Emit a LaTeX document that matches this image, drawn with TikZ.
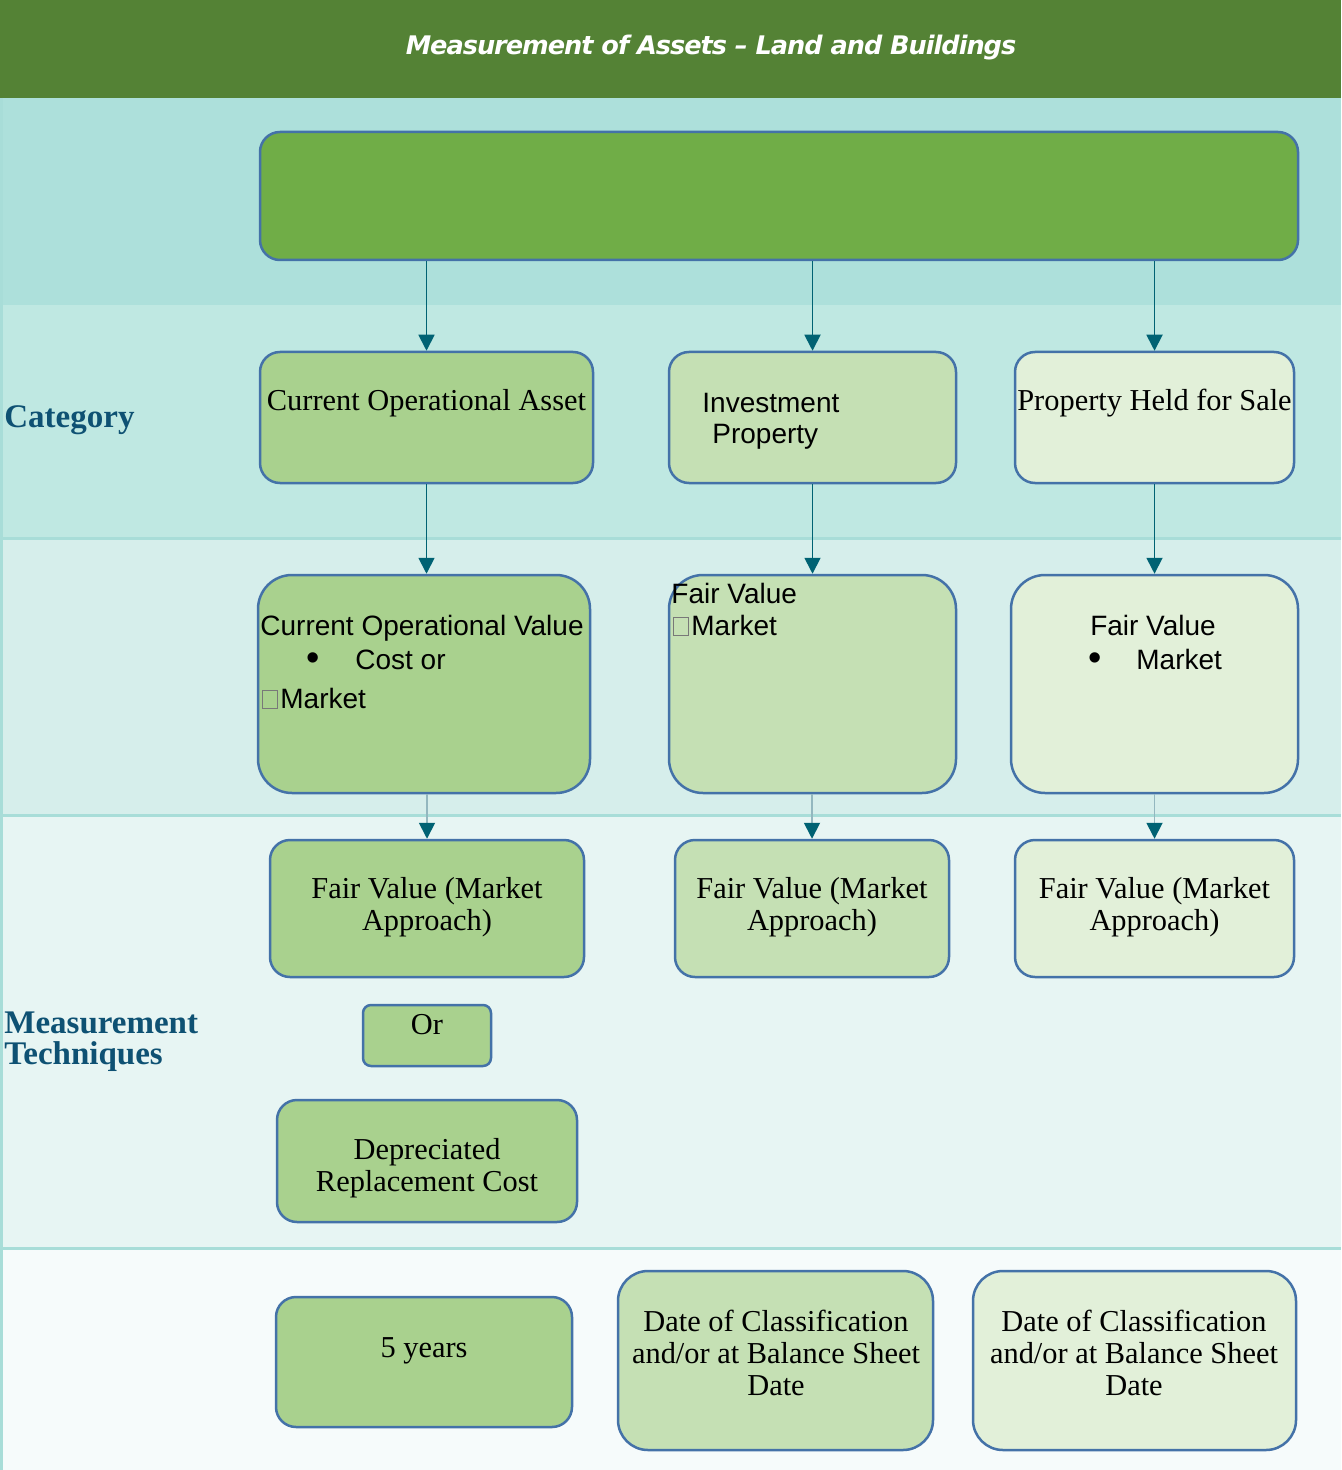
\documentclass[tikz,border=0pt]{standalone}
\usepackage{fontspec}
\setmainfont{Liberation Serif}
\setsansfont{Liberation Sans}
\newfontfamily\titlefont{DejaVu Sans}[LetterSpace=-4]
\usetikzlibrary{arrows.meta,fit}

\definecolor{titlegreen}{RGB}{84,130,53}
\definecolor{bandone}{RGB}{173,224,219}
\definecolor{bandtwo}{RGB}{191,232,226}
\definecolor{bandthree}{RGB}{214,238,235}
\definecolor{bandfour}{RGB}{231,245,243}
\definecolor{bandfive}{RGB}{246,251,251}
\definecolor{sepline}{RGB}{168,221,216}
\definecolor{boxblue}{RGB}{68,114,168}
\definecolor{topfill}{RGB}{112,173,71}
\definecolor{fillA}{RGB}{169,209,142}
\definecolor{fillB}{RGB}{197,224,180}
\definecolor{fillC}{RGB}{226,240,217}
\definecolor{arrowteal}{RGB}{0,98,115}
\definecolor{greyline}{RGB}{147,183,191}
\definecolor{catblue}{RGB}{14,81,115}
\definecolor{tofugrey}{RGB}{120,120,120}

\newcommand{\tofu}{{\color{tofugrey}\setlength{\fboxsep}{0pt}\setlength{\fboxrule}{0.5pt}\fbox{\rule{0pt}{8.5pt}\hspace{7pt}}}\kern1pt}

\begin{document}
\begin{tikzpicture}[
    x=0.5pt, y=-0.5pt,
    box/.style={draw=boxblue, line width=1.25pt, rounded corners=10pt, inner sep=0pt},
    serif/.style={font=\fontsize{15.2}{16}\selectfont, align=center, inner sep=0pt},
    sans/.style={font=\sffamily\fontsize{14}{16.5}\selectfont, inner sep=0pt, anchor=base west},
    dot/.style={font=\sffamily\fontsize{19}{19}\selectfont, inner sep=0pt, anchor=base west},
    rowlabel/.style={font=\bfseries\fontsize{16.5}{15.5}\selectfont, text=catblue, align=left, inner sep=0pt, anchor=base west},
    flow/.style={draw=arrowteal, line width=0.9pt, -{Triangle[width=8pt,length=8pt]}},
    greyflow/.style={draw=greyline, line width=0.9pt, -{Triangle[width=8pt,length=8pt,color=arrowteal]}}
]
\useasboundingbox (0,0) rectangle (1341,1470);
\fill[titlegreen] (0,0) rectangle (1341,98);
\fill[bandone] (0,98) rectangle (1341,305);
\fill[bandtwo] (0,305) rectangle (1341,538);
\fill[bandthree] (0,538) rectangle (1341,815);
\fill[bandfour] (0,815) rectangle (1341,1248);
\fill[bandfive] (0,1248) rectangle (1341,1470);
\draw[sepline, line width=1.5pt] (0,538) -- (1341,538) (0,815) -- (1341,815) (0,1248) -- (1341,1248) (1.5,98) -- (1.5,1470);

\node[font=\titlefont\bfseries\itshape\fontsize{12.8}{15}\selectfont, text=white] (title) at (711,48) {Measurement of Assets – Land and Buildings};
\node[rowlabel] (category) at (4,428) {Category};
\node[rowlabel] (techniques) at (4,1064) {Measurement\\Techniques};

\node[box, fill=topfill, fit={(260,132) (1298,260)}] (top) {};

\node[box, fill=fillA, fit={(260,352) (593,483)}] (catA) {};
\node[box, fill=fillB, fit={(669,352) (956,483)}] (catB) {};
\node[box, fill=fillC, fit={(1015,352) (1294,483)}] (catC) {};
\node[serif, anchor=base] (catAtext) at (426.5,411) {Current Operational Asset};
\node[sans] (catBone) at (702,413) {Investment};
\node[sans] (catBtwo) at (712,444) {Property};
\node[serif, anchor=base] (catCtext) at (1154.5,411) {Property Held for Sale};

\node[box, fill=fillA, rounded corners=17pt, fit={(258,575) (590,793)}] (valA) {};
\node[box, fill=fillB, rounded corners=17pt, fit={(669,575) (956,793)}] (valB) {};
\node[box, fill=fillC, rounded corners=17pt, fit={(1011,575) (1298,793)}] (valC) {};
\node[sans] (valAone) at (260,635) {Current Operational Value};
\node[dot] (valAbullet) at (306,670) {•};
\node[sans] (valAtwo) at (355,669) {Cost or};
\node[sans] (valAthree) at (262,708) {\tofu Market};
\node[sans] (valBone) at (671,603) {Fair Value};
\node[sans] (valBtwo) at (673,635) {\tofu Market};
\node[sans, anchor=base] (valCone) at (1153,635) {Fair Value};
\node[dot] (valCbullet) at (1088,670) {•};
\node[sans] (valCtwo) at (1136,669) {Market};

\node[box, fill=fillA, fit={(270,840) (584,977)}] (fvA) {};
\node[box, fill=fillB, fit={(675,840) (949,977)}] (fvB) {};
\node[box, fill=fillC, fit={(1015,840) (1294,977)}] (fvC) {};
\node[serif] (fvAtext) at (427,907) {Fair Value (Market\\Approach)};
\node[serif] (fvBtext) at (812,907) {Fair Value (Market\\Approach)};
\node[serif] (fvCtext) at (1154.5,907) {Fair Value (Market\\Approach)};

\node[box, fill=fillA, rounded corners=4pt, fit={(363,1005) (491,1066)}] (or) {};
\node[serif, anchor=base] (ortext) at (427,1034) {Or};
\node[box, fill=fillA, fit={(277,1100) (577,1222)}] (drc) {};
\node[serif] (drctext) at (427,1168) {Depreciated\\Replacement Cost};

\node[box, fill=fillA, fit={(276,1297) (572,1427)}] (yrA) {};
\node[box, fill=fillB, rounded corners=15pt, fit={(618,1271) (933,1450)}] (dtB) {};
\node[box, fill=fillC, rounded corners=15pt, fit={(973,1271) (1296,1450)}] (dtC) {};
\node[serif] (yrAtext) at (424,1351) {5 years};
\node[serif] (dtBtext) at (776,1353) {Date of Classification\\and/or at Balance Sheet\\Date};
\node[serif] (dtCtext) at (1134,1353) {Date of Classification\\and/or at Balance Sheet\\Date};

\draw[flow] (top.south -| catA.north) -- (catA.north);
\draw[flow] (top.south -| catB.north) -- (catB.north);
\draw[flow] (top.south -| catC.north) -- (catC.north);
\draw[flow] (catA.south) -- (catA.south |- valA.north);
\draw[flow] (catB.south) -- (catB.south |- valB.north);
\draw[flow] (catC.south) -- (catC.south |- valC.north);
\draw[greyflow] (fvA.north |- valA.south) -- (fvA.north);
\draw[greyflow] (fvB.north |- valB.south) -- (fvB.north);
\draw[greyflow] (fvC.north |- valC.south) -- (fvC.north);
\end{tikzpicture}
\end{document}
